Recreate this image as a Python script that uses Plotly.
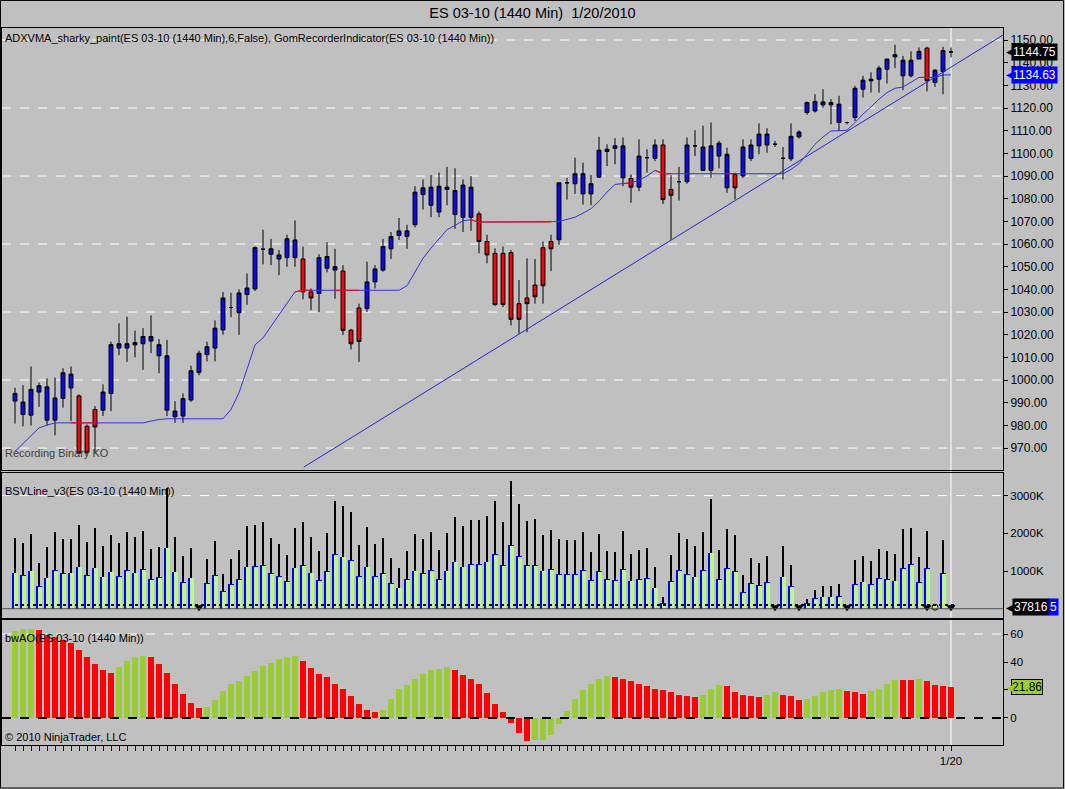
import plotly.graph_objects as go

# daily ES 03-10 bars, index 0..117, last bar = 1/20/2010
bars = list(range(118))

body_top = [994.1, 990.3, 995.9, 997.5, 997.0, 992.1, 1003.2, 1002.6, 993.0, 979.6,
            987.0, 994.7, 1015.6, 1016.0, 1016.0, 1016.6, 1019.2, 1019.2, 1015.6, 1010.7,
            986.3, 991.8, 1004.1, 1011.8, 1014.7, 1022.9, 1036.2, 1032.0, 1038.4, 1040.6,
            1058.4, 1057.7, 1057.9, 1055.2, 1062.3, 1061.8, 1053.4, 1038.9, 1054.0, 1054.5,
            1050.0, 1048.1, 1022.0, 1031.8, 1043.3, 1049.0, 1058.9, 1063.3, 1065.8, 1065.8,
            1082.9, 1084.8, 1085.1, 1085.5, 1085.1, 1083.6, 1086.0, 1085.1, 1073.3, 1061.1,
            1055.9, 1055.9, 1056.2, 1033.7, 1036.2, 1041.9, 1058.4, 1061.1, 1087.0, 1087.0,
            1091.0, 1091.0, 1086.6, 1101.4, 1101.8, 1103.3, 1103.3, 1088.9, 1098.8, 1098.1,
            1103.7, 1103.7, 1084.1, 1087.5, 1103.7, 1103.3, 1102.8, 1103.3, 1104.5, 1099.6,
            1090.7, 1102.8, 1103.7, 1108.5, 1108.5, 1104.0, 1097.8, 1107.5, 1109.4, 1122.4,
            1122.9, 1122.7, 1122.4, 1121.7, 1113.6, 1128.7, 1132.3, 1132.7, 1137.6, 1141.6,
            1143.5, 1141.1, 1141.1, 1145.0, 1146.4, 1136.7, 1145.3, 1144.75]
body_bot = [990.7, 984.8, 984.5, 994.7, 982.3, 982.3, 991.9, 996.5, 967.8, 968.1,
            979.3, 986.7, 994.1, 1014.1, 1014.1, 1015.5, 1016.0, 1017.2, 1010.7, 986.7,
            983.8, 984.1, 991.2, 1003.3, 1011.2, 1014.1, 1022.1, 1032.0, 1029.7, 1037.7,
            1040.2, 1057.7, 1055.5, 1053.4, 1054.0, 1054.0, 1038.9, 1036.2, 1038.2, 1049.3,
            1048.5, 1021.9, 1016.0, 1017.0, 1031.5, 1043.3, 1048.5, 1057.9, 1063.8, 1063.3,
            1068.5, 1081.8, 1077.1, 1074.1, 1084.1, 1073.0, 1071.8, 1071.8, 1061.1, 1055.2,
            1033.3, 1033.3, 1026.8, 1026.8, 1033.7, 1036.7, 1041.6, 1057.9, 1061.9, 1087.0,
            1086.6, 1082.1, 1082.1, 1089.5, 1100.8, 1102.2, 1089.2, 1085.1, 1085.1, 1098.1,
            1097.8, 1079.6, 1081.5, 1087.5, 1087.5, 1103.3, 1092.5, 1092.5, 1098.8, 1084.8,
            1084.8, 1090.0, 1097.8, 1103.3, 1103.7, 1104.0, 1097.8, 1097.6, 1107.3, 1118.0,
            1118.7, 1121.4, 1121.4, 1113.6, 1113.6, 1115.8, 1128.3, 1132.0, 1132.7, 1137.1,
            1142.6, 1134.2, 1134.2, 1141.6, 1132.0, 1131.3, 1136.1, 1144.75]
high = [996.6, 997.7, 1006.0, 998.9, 1000.7, 1001.1, 1005.2, 1006.0, 993.7, 980.4,
        988.5, 998.1, 1016.9, 1025.1, 1028.0, 1021.8, 1022.9, 1028.5, 1018.1, 1017.7,
        990.7, 994.1, 1006.3, 1013.0, 1016.9, 1026.3, 1038.8, 1038.5, 1040.0, 1047.0,
        1059.0, 1066.3, 1062.3, 1057.4, 1064.1, 1070.4, 1058.9, 1040.4, 1055.5, 1060.8,
        1057.9, 1050.7, 1022.5, 1033.7, 1052.2, 1050.7, 1062.3, 1065.3, 1071.5, 1068.5,
        1085.5, 1088.5, 1090.4, 1091.5, 1094.0, 1093.4, 1088.5, 1090.0, 1074.4, 1064.1,
        1058.1, 1058.9, 1057.4, 1044.1, 1053.7, 1053.4, 1061.1, 1064.1, 1087.0, 1089.2,
        1098.1, 1095.9, 1090.4, 1107.3, 1104.0, 1106.7, 1107.0, 1090.7, 1106.2, 1101.8,
        1106.2, 1106.2, 1090.4, 1094.0, 1107.0, 1110.2, 1112.2, 1113.6, 1105.5, 1102.5,
        1091.5, 1106.2, 1106.2, 1113.2, 1111.1, 1105.5, 1102.8, 1113.2, 1110.2, 1122.9,
        1126.1, 1128.3, 1123.9, 1125.4, 1114.0, 1129.8, 1134.2, 1135.7, 1138.6, 1141.6,
        1147.9, 1143.0, 1145.0, 1146.7, 1147.0, 1137.1, 1147.0, 1146.7]
low = [980.8, 979.6, 979.9, 988.2, 979.9, 975.6, 987.8, 981.9, 967.5, 967.1,
       967.8, 984.1, 986.3, 1011.0, 1008.0, 1010.0, 1004.5, 1011.9, 1003.0, 984.1,
       981.1, 981.1, 990.4, 1002.1, 1008.2, 1008.2, 1020.0, 1027.7, 1019.9, 1033.2,
       1039.3, 1051.0, 1050.7, 1046.3, 1050.0, 1050.0, 1035.6, 1030.8, 1030.0, 1047.5,
       1035.9, 1019.9, 1013.5, 1008.0, 1030.0, 1040.4, 1047.8, 1053.4, 1061.8, 1057.9,
       1067.3, 1075.2, 1071.8, 1071.8, 1077.1, 1066.7, 1065.3, 1065.8, 1055.9, 1051.5,
       1032.7, 1032.2, 1024.1, 1020.4, 1021.1, 1033.7, 1033.7, 1048.1, 1059.7, 1079.6,
       1082.1, 1077.4, 1077.1, 1089.2, 1094.4, 1095.2, 1085.5, 1078.2, 1083.3, 1091.5,
       1096.6, 1077.7, 1061.9, 1079.2, 1086.6, 1098.8, 1092.2, 1089.2, 1093.4, 1082.6,
       1079.6, 1089.2, 1096.6, 1099.6, 1100.3, 1102.8, 1088.5, 1096.6, 1106.5, 1117.0,
       1118.0, 1120.2, 1112.8, 1109.9, 1112.8, 1114.3, 1124.6, 1126.8, 1126.8, 1130.8,
       1137.6, 1127.9, 1133.5, 1141.6, 1127.3, 1129.3, 1126.1, 1142.3]
# ADXVMA paint per bar: b = blue, r = red
paint = ("bbbbbbbbrr" "rbbbbbbbbb" "bbbbbbbbbb" "bbbbbbrrbb" "brrrbbbbbb"
         "bbbbbbbbrr" "rrrrrrrrbb" "bbbbbbbrbb" "brrbbbbbbb" "rbbbbbbbbb"
         "bbbbbbbbbb" "bbbbrbbb")

adxvma = [968.5, 971.9, 975.5, 978.9, 980.1, 981.1, 981.1, 981.1, 981.1, 981.1,
          981.1, 981.1, 981.1, 981.1, 981.1, 981.1, 981.1, 981.9, 982.6, 982.9,
          982.9, 982.9, 982.9, 982.9, 982.9, 982.9, 982.9, 987.0, 994.4, 1004.8,
          1015.5, 1018.6, 1023.6, 1028.7, 1033.9, 1038.9, 1039.6, 1039.6, 1039.6, 1039.6,
          1039.6, 1039.6, 1039.6, 1039.6, 1039.6, 1039.6, 1039.6, 1039.6, 1039.6, 1041.6,
          1047.8, 1053.7, 1058.2, 1062.3, 1066.3, 1068.2, 1070.3, 1070.7, 1069.7, 1069.7,
          1069.7, 1069.7, 1069.7, 1069.7, 1069.7, 1069.7, 1069.7, 1069.7, 1069.9, 1070.9,
          1071.8, 1073.6, 1075.6, 1078.9, 1082.9, 1086.3, 1086.7, 1087.0, 1088.1, 1090.0,
          1092.5, 1091.0, 1091.0, 1091.0, 1091.0, 1091.0, 1091.0, 1091.0, 1091.0, 1091.0,
          1091.0, 1091.0, 1091.0, 1091.0, 1091.0, 1091.0, 1091.0, 1092.9, 1095.4, 1099.6,
          1104.0, 1107.2, 1109.9, 1110.0, 1110.2, 1113.6, 1117.3, 1120.5, 1123.9, 1126.8,
          1128.7, 1129.3, 1131.3, 1133.5, 1133.5, 1133.5, 1134.6, 1134.63]

# hand-drawn trendline: (bar, price) at both ends
trend_x = [36.1, 123.5]
trend_y = [961.6, 1152.2]

# volume in K
vol_total = [1867, 1751, 1981, 1221, 1645, 2043, 1849, 1849, 2220, 1778,
             2132, 1663, 1955, 1751, 2043, 1911, 2061, 1575, 1645, 3193,
             1893, 1398, 1601, None, 1310, 1796, 920, 1310, 1557, 2194,
             2220, 2291, 1867, 1716, 1425, 2150, 2291, 1893, 1539, 2000,
             2857, 2724, 2573, 1690, 2168, 1716, 1867, 1337, 1071, 1539,
             1981, 1849, 2043, 1557, 2017, 2424, 2194, 2353, 2353, 2459,
             2857, 2291, 3388, 2778, 2327, 2380, 1955, 2088, 1849, 1822,
             1822, 2026, 1513, 1981, 1539, 1513, 2061, 1451, 1557, 1601,
             1115, 302, 1425, 2017, 1849, 1663, 2043, 2902, 1557, 2105,
             1955, 894, 1337, 1204, 1398, None, 1663, 1160, None, 249,
             496, 602, 602, 655, None, 1292, 1398, 1274, 1575, 1531,
             1451, 2105, 2132, 1363, 2061, None, 1822, None]
vol_bsv = [956, 894, 1009, 602, 823, 1026, 937, 956, 1115, 894,
           1089, 850, 982, 867, 1026, 956, 1053, 788, 832, 1619,
           982, 699, 823, None, 673, 894, 469, 646, 788, 1115,
           1133, 1159, 937, 867, 735, 1089, 1159, 956, 761, 1000,
           1451, 1380, 1292, 867, 1115, 867, 937, 673, 558, 788,
           1009, 937, 1026, 788, 1009, 1247, 1115, 1186, 1186, 1247,
           1451, 1159, 1690, 1398, 1159, 1159, 1009, 1053, 920, 920,
           920, 1026, 761, 1000, 788, 761, 1053, 744, 788, 806,
           558, 159, 735, 1026, 920, 850, 1026, 1487, 788, 1071,
           1000, 434, 673, 628, 699, None, 850, 602, None, 142,
           275, 319, 319, 336, None, 655, 717, 655, 806, 788,
           744, 1071, 1177, 699, 1071, None, 937, None]
missing_bars = [23, 95, 98, 104, 114, 117]
dot_bars = [115]
bsv_level = 100

# bwAO
ao = [62.4, 63.3, 63.8, 63.1, 59.5, 57.6, 55.9, 53.5, 48.8, 43.8,
      38.8, 34.5, 32.4, 36.2, 41.0, 43.8, 44.5, 43.8, 38.8, 32.4,
      24.5, 17.4, 10.7, 7.4, 8.1, 13.1, 19.5, 24.5, 26.7, 30.2,
      33.8, 37.4, 39.3, 42.4, 43.8, 44.5, 40.5, 35.8, 31.7, 29.0,
      24.5, 21.0, 15.5, 10.3, 6.0, 4.1, 6.0, 13.8, 21.0, 23.8,
      28.1, 31.4, 34.5, 35.2, 36.4, 34.5, 30.9, 28.1, 24.5, 17.9,
      10.0, 4.1, -3.6, -10.7, -16.2, -16.0, -15.5, -12.4, -4.3, 5.2,
      13.8, 20.2, 24.5, 28.1, 30.0, 29.6, 28.1, 26.7, 24.5, 22.6,
      21.0, 20.2, 18.3, 16.2, 15.5, 15.3, 16.6, 21.0, 23.3, 22.6,
      18.3, 16.6, 15.5, 15.3, 16.2, 18.3, 16.2, 15.5, 13.1, 13.8,
      15.5, 18.6, 20.2, 21.0, 19.1, 18.3, 17.4, 19.1, 21.0, 24.5,
      27.4, 27.2, 27.0, 28.1, 26.7, 23.8, 22.6, 21.86]
ao_paint = ("gggrrrrrrr" "rrrggggrrr" "rrrrgggggg" "ggggggrrrr" "rrrrrrgggg"
            "gggggrrrrr" "rrrrrggggg" "gggggrrrrr" "rrrrrrgggr" "rrrrggrrrg"
            "ggggrrrggg" "grrgrrrr")

price_ticks = list(range(970, 1151, 10))
price_grid = [970, 1000, 1030, 1060, 1090, 1120, 1150]
vol_ticks = [1000, 2000, 3000]
vol_grid = [3000]
ao_ticks = [0, 20, 40, 60]
ao_hidden = [20]   # covered by the value flag
ao_grid = [60]

BLUE = "#0a0af0"
RED = "#ff0000"
FONT = "Liberation Sans, Arial, sans-serif"

opens = [body_bot[i] if paint[i] == "b" else body_top[i] for i in bars]
closes = [body_top[i] if paint[i] == "b" else body_bot[i] for i in bars]

fig = go.Figure()

# ---- price panel
fig.add_trace(go.Scatter(x=trend_x, y=trend_y, mode="lines",
                         line=dict(color="#2828c8", width=1), xaxis="x", yaxis="y"))
fig.add_trace(go.Scatter(x=bars, y=adxvma, mode="lines",
                         line=dict(color="#3434d8", width=1), xaxis="x", yaxis="y"))
# red stretches of the adxvma line
rx, ry = [], []
for i in bars:
    if paint[i] == "r":
        if i == 0 or paint[i - 1] != "r":
            rx.append(None)
            ry.append(None)
            rx.append(i - 1)
            ry.append(adxvma[i - 1])
        rx.append(i)
        ry.append(adxvma[i])
fig.add_trace(go.Scatter(x=rx, y=ry, mode="lines", connectgaps=False,
                         line=dict(color=RED, width=1), xaxis="x", yaxis="y"))
fig.add_trace(go.Candlestick(
    x=bars, open=opens, high=high, low=low, close=closes,
    increasing=dict(fillcolor=BLUE, line=dict(color="black", width=1)),
    decreasing=dict(fillcolor=RED, line=dict(color="black", width=1)),
    whiskerwidth=0, xaxis="x", yaxis="y"))

# ---- volume panel
fig.add_trace(go.Bar(x=bars, y=vol_total, width=0.22, marker=dict(color="black", line_width=0),
                     xaxis="x2", yaxis="y2"))
fig.add_trace(go.Bar(x=bars, y=vol_bsv, width=0.68, marker=dict(color="#0000ee", line_width=0),
                     xaxis="x2", yaxis="y2"))
fig.add_trace(go.Bar(x=bars, y=[v - 20 if v else None for v in vol_bsv], width=0.52, offset=-0.18,
                     marker=dict(color="#bcf690", line_width=0), xaxis="x2", yaxis="y2"))
fig.add_trace(go.Scatter(x=missing_bars, y=[40] * len(missing_bars), mode="markers",
                         marker=dict(symbol="triangle-down", size=8, color="black"),
                         xaxis="x2", yaxis="y2"))
fig.add_trace(go.Scatter(x=dot_bars, y=[40] * len(dot_bars), mode="markers",
                         marker=dict(symbol="circle", size=6, color="#c8f060",
                                     line=dict(color="black", width=1)),
                         xaxis="x2", yaxis="y2"))

# ---- bwAO panel
fig.add_trace(go.Bar(x=bars, y=ao, width=0.7,
                     marker=dict(color=["#9acd32" if c == "g" else RED for c in ao_paint], line_width=0),
                     xaxis="x3", yaxis="y3"))

shapes = []
for g in price_grid:
    shapes.append(dict(type="line", xref="x domain", x0=0, x1=1, yref="y", y0=g, y1=g,
                       line=dict(color="white", width=1, dash="dash"), layer="below"))
for g in vol_grid:
    shapes.append(dict(type="line", xref="x2 domain", x0=0, x1=1, yref="y2", y0=g, y1=g,
                       line=dict(color="white", width=1, dash="dash"), layer="below"))
for g in ao_grid:
    shapes.append(dict(type="line", xref="x3 domain", x0=0, x1=1, yref="y3", y0=g, y1=g,
                       line=dict(color="white", width=1, dash="dash"), layer="below"))
# date line at last bar
shapes.append(dict(type="line", xref="x", x0=117, x1=117, yref="paper", y0=0, y1=1,
                   line=dict(color="white", width=1), layer="below"))
# volume base and bsv line
shapes.append(dict(type="line", xref="x2 domain", x0=0, x1=1, yref="y2", y0=0, y1=0,
                   line=dict(color="#505050", width=1)))
shapes.append(dict(type="line", xref="x2", x0=0, x1=117.5, yref="y2", y0=bsv_level, y1=bsv_level,
                   line=dict(color="black", width=2, dash="dot")))
# AO zero line
shapes.append(dict(type="line", xref="x3 domain", x0=0, x1=1, yref="y3", y0=0, y1=0,
                   line=dict(color="black", width=2, dash="dash")))
# outer frame
shapes.append(dict(type="rect", xref="paper", yref="paper", x0=-0.0015, x1=1.0605,
                   y0=-0.0600, y1=1.0384, line=dict(color="black", width=1)))

small = dict(family=FONT, size=11, color="black")
flag_font = dict(family=FONT, size=12, color="white")
annotations = [
    dict(text="ADXVMA_sharky_paint(ES 03-10 (1440 Min),6,False), GomRecorderIndicator(ES 03-10 (1440 Min))",
         xref="paper", x=0, xanchor="left", xshift=1, yref="y domain", y=1, yanchor="top", yshift=-2,
         showarrow=False, font=small),
    dict(text="Recording Binary KO", xref="paper", x=0, xanchor="left", xshift=1,
         yref="y domain", y=0, yanchor="bottom", yshift=9, showarrow=False,
         font=dict(family=FONT, size=11, color="#404040")),
    dict(text="BSVLine_v3(ES 03-10 (1440 Min))", xref="paper", x=0, xanchor="left", xshift=1,
         yref="y2 domain", y=1, yanchor="top", yshift=-10, showarrow=False, font=small),
    dict(text="bwAO(ES 03-10 (1440 Min))", xref="paper", x=0, xanchor="left", xshift=1,
         yref="y3 domain", y=1, yanchor="top", yshift=-10, showarrow=False, font=small),
    dict(text="© 2010 NinjaTrader, LLC", xref="paper", x=0, xanchor="left", xshift=1,
         yref="y3 domain", y=0, yanchor="bottom", yshift=0, showarrow=False, font=small),
    dict(text="1144.75", xref="paper", x=1, xanchor="left", xshift=8, yref="y", y=body_top[-1],
         showarrow=False, bgcolor="black", font=flag_font, borderpad=1),
    dict(text="1134.63", xref="paper", x=1, xanchor="left", xshift=8, yref="y", y=adxvma[-1],
         showarrow=False, bgcolor="#0000ff", font=flag_font, borderpad=1),
    dict(text="37816", xref="paper", x=1, xanchor="left", xshift=9, yref="y2", y=40,
         showarrow=False, bgcolor="black", font=flag_font, borderpad=1),
    dict(text="5", xref="paper", x=1, xanchor="left", xshift=45, yref="y2", y=40,
         showarrow=False, bgcolor="#0000ff", font=flag_font, borderpad=1),
    dict(text="21.86", xref="paper", x=1, xanchor="left", xshift=8, yref="y3", y=ao[-1],
         showarrow=False, bgcolor="#9acd32", bordercolor="black", borderwidth=1,
         font=dict(family=FONT, size=12, color="black"), borderpad=0),
]
# left-pointing tips of the value flags
flags = [("y", body_top[-1], "black"), ("y", adxvma[-1], "#0000ff"),
         ("y2", 40, "black"), ("y3", ao[-1], "#9acd32")]
for yref, yv, col in flags:
    annotations.append(dict(text="\u25c0", xref="paper", x=1, xanchor="left", xshift=1,
                            yref=yref, y=yv, showarrow=False,
                            font=dict(family="DejaVu Sans", size=10, color=col)))

axis_common = dict(showgrid=False, zeroline=False, showline=True, mirror=True,
                   linecolor="black", linewidth=1)
x_range = [-1.625, 123.5]

fig.update_layout(
    width=1065, height=789,
    margin=dict(l=2, r=62, t=28, b=44, autoexpand=False),
    paper_bgcolor="#c0c0c0", plot_bgcolor="#c0c0c0",
    showlegend=False, barmode="overlay", bargap=0,
    font=dict(family=FONT, size=12, color="black"),
    title=dict(text="ES 03-10 (1440 Min) \u00a01/20/2010", x=0.5, xref="container",
               y=1 - 13 / 789, yref="container", yanchor="middle",
               font=dict(family=FONT, size=14.5, color="black")),
    xaxis=dict(domain=[0, 1], range=x_range, anchor="y", showticklabels=False, ticks="",
               rangeslider=dict(visible=False), **axis_common),
    xaxis2=dict(domain=[0, 1], matches="x", anchor="y2", showticklabels=False, ticks="", **axis_common),
    xaxis3=dict(domain=[0, 1], matches="x", anchor="y3", tickmode="array", tickvals=bars,
                ticktext=["1/20" if i == 117 else "" for i in bars], ticks="outside", ticklen=5,
                tickcolor="black", tickfont=dict(family=FONT, size=11.5), **axis_common),
    yaxis=dict(domain=[0.3835, 1], range=[960.3, 1155.3], side="right", anchor="x",
               tickmode="array", tickvals=price_ticks, ticktext=[f"{v:.2f}" for v in price_ticks],
               ticks="outside", ticklen=4, tickcolor="black", tickfont=dict(family=FONT, size=12),
               **axis_common),
    yaxis2=dict(domain=[0.1771, 0.3794], range=[-247, 3600], side="right", anchor="x2",
                tickmode="array", tickvals=vol_ticks, ticktext=[f"{v}K" for v in vol_ticks],
                ticks="outside", ticklen=4, tickcolor="black", tickfont=dict(family=FONT, size=11.5),
                **axis_common),
    yaxis3=dict(domain=[0, 0.1743], range=[-19.3, 70], side="right", anchor="x3",
                tickmode="array", tickvals=ao_ticks,
                ticktext=["" if v in ao_hidden else str(v) for v in ao_ticks],
                ticks="outside", ticklen=4, tickcolor="black", tickfont=dict(family=FONT, size=11.5),
                **axis_common),
    shapes=shapes, annotations=annotations,
)

# page has a default 8px body margin; drop it so the chart sits at the window corner
fig.write_html("out.html", config={"displayModeBar": False},
               post_script="document.body.style.margin='0';")
